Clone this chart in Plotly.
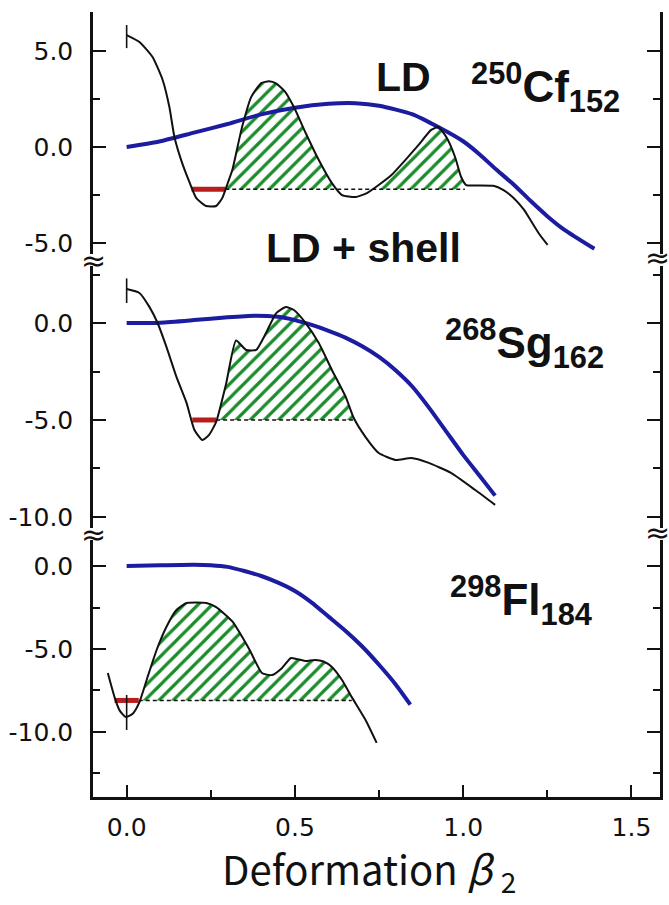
import plotly.graph_objects as go

W, H = 669, 905

# ---------------- data (energies in MeV vs deformation beta_2) ----------------
# 250Cf152
cf_shell_x = [0.0, 0.038, 0.077, 0.107, 0.127, 0.142, 0.162, 0.186, 0.207, 0.236, 0.266, 0.284,
              0.30, 0.314, 0.334, 0.343, 0.37, 0.40, 0.423, 0.445, 0.470, 0.497, 0.532, 0.571,
              0.61, 0.64, 0.68, 0.714, 0.749, 0.787, 0.828, 0.867, 0.905, 0.926, 0.95, 0.976,
              0.994, 1.009, 1.04, 1.09, 1.12, 1.15, 1.18, 1.2, 1.225, 1.251]
cf_shell_y = [5.83, 5.47, 4.69, 3.49, 2.08, 0.52, -0.68, -1.8, -2.66, -3.07, -3.07, -2.66,
              -1.9, -1.2, 0.36, 1.04, 2.6, 3.33, 3.42, 3.3, 2.9, 2.08, 0.73, -0.68,
              -1.88, -2.5, -2.6, -2.4, -1.98, -1.46, -0.68, 0.1, 0.89, 1.04, 0.52, -0.52,
              -1.56, -1.98, -2.0, -2.02, -2.25, -2.65, -3.25, -3.8, -4.5, -5.1]
cf_ld_x = [0.0, 0.1, 0.2, 0.3, 0.4, 0.5, 0.6, 0.68, 0.75, 0.85, 0.926, 1.0, 1.05, 1.1, 1.15,
           1.2, 1.25, 1.3, 1.39]
cf_ld_y = [0.0, 0.3, 0.75, 1.2, 1.7, 2.05, 2.25, 2.28, 2.15, 1.7, 1.04, 0.3, -0.4, -1.2, -1.95,
           -2.8, -3.6, -4.3, -5.3]

# 268Sg162
sg_shell_x = [0.0, 0.038, 0.068, 0.092, 0.118, 0.148, 0.178, 0.201, 0.225, 0.245, 0.266, 0.296,
              0.325, 0.355, 0.385, 0.414, 0.444, 0.473, 0.497, 0.532, 0.571, 0.61, 0.651,
              0.675, 0.71, 0.749, 0.799, 0.846, 0.896, 0.964, 1.035, 1.095]
sg_shell_y = [1.75, 1.55, 0.82, 0.0, -1.22, -2.78, -4.12, -5.5, -6.03, -5.77, -5.1, -3.1,
              -0.9, -1.39, -1.39, -0.52, 0.5, 0.82, 0.67, 0.0, -1.03, -2.42, -3.81,
              -4.9, -5.88, -6.7, -7.06, -6.96, -7.2, -7.73, -8.6, -9.38]
sg_ld_x = [0.0, 0.1, 0.2, 0.3, 0.38, 0.45, 0.5, 0.55, 0.6, 0.65, 0.7, 0.75, 0.8, 0.85, 0.9,
           0.95, 1.0, 1.05, 1.095]
sg_ld_y = [0.0, 0.02, 0.15, 0.3, 0.38, 0.32, 0.15, -0.1, -0.4, -0.75, -1.2, -1.75, -2.45,
           -3.3, -4.4, -5.6, -6.8, -7.9, -8.9]

# 298Fl184
fl_shell_x = [-0.056, -0.036, -0.021, -0.003, 0.018, 0.038, 0.062, 0.089, 0.118, 0.148, 0.178,
              0.207, 0.237, 0.266, 0.314, 0.364, 0.402, 0.432, 0.462, 0.488, 0.505, 0.53,
              0.56, 0.585, 0.61, 0.64, 0.669, 0.71, 0.743]
fl_shell_y = [-6.45, -7.9, -8.7, -9.1, -8.9, -8.2, -6.7, -5.06, -3.67, -2.65, -2.23,
              -2.2, -2.23, -2.47, -3.34, -5.0, -6.45, -6.57, -6.14, -5.54, -5.6, -5.72,
              -5.66, -5.75, -6.08, -6.87, -7.9, -9.28, -10.66]
fl_ld_x = [0.0, 0.1, 0.2, 0.25, 0.3, 0.35, 0.4, 0.45, 0.5, 0.55, 0.6, 0.65, 0.7, 0.75, 0.8,
           0.843]
fl_ld_y = [0.0, 0.05, 0.08, 0.05, -0.05, -0.3, -0.6, -1.0, -1.5, -2.2, -3.05, -3.9, -4.85,
           -5.95, -7.15, -8.35]

# ground-state level, extent of the ground-state bar, extent of the dashed level,
# and beta_2 windows of the hatched barriers
gs_level = [-2.2, -5.0, -8.1]
gs_bar = [[0.193, 0.293], [0.195, 0.266], [-0.036, 0.036]]
gs_dash = [[0.293, 1.005], [0.266, 0.68], [0.036, 0.669]]
barrier_windows = [[[0.28, 0.65], [0.70, 1.005]], [[0.25, 0.70]], [[0.0, 0.70]]]

# short vertical markers at beta_2 = 0
start_marks = [[6.35, 5.15], [2.3, 1.03], [-7.77, -9.88]]

nuclei = ["<sup>250</sup>Cf<sub>152</sub>", "<sup>268</sup>Sg<sub>162</sub>",
          "<sup>298</sup>Fl<sub>184</sub>"]

x_ticks = [0.0, 0.5, 1.0, 1.5]
x_minor = [0.25, 0.75, 1.25]
y_ticks = [[-5.0, 0.0, 5.0], [-10.0, -5.0, 0.0], [-10.0, -5.0, 0.0]]
y_minor = [[-2.5, 2.5], [-7.5, -2.5, 2.5], [-12.5, -7.5, -2.5]]

# ---------------- styling ----------------
BLACK = "#111111"
BLUE = "#1c1ca0"
RED = "#b81c1c"
GREEN = "#1a8c2c"

L, R, T, B = 93, 6, 12, 108
PW, PH = W - L - R, H - T - B


def fx(px):
    return (px - L) / PW


def fy(py):
    return (H - B - py) / PH


domains = [[fy(254), 1.0], [fy(528), fy(266)], [0.0, fy(540)]]
yranges = [[-5.57, 7.03], [-10.57, 2.94], [-13.92, 1.57]]


def hatch_polygons(xs, ys, level, lo, hi):
    """Closed pieces of the curve that lie above `level` inside [lo, hi]."""
    out_x, out_y = [], []
    cur = None
    for xa, ya, xb, yb in zip(xs, ys, xs[1:], ys[1:]):
        if xb <= lo or xa >= hi:
            continue
        if xa < lo:
            ya = ya + (yb - ya) * (lo - xa) / (xb - xa)
            xa = lo
        if xb > hi:
            yb = ya + (yb - ya) * (hi - xa) / (xb - xa)
            xb = hi
        a_up, b_up = ya >= level, yb >= level
        if cur is None and a_up:
            cur = [(xa, level), (xa, ya)]
        if a_up and b_up:
            cur.append((xb, yb))
        elif a_up and not b_up:
            xc = xa + (level - ya) * (xb - xa) / (yb - ya)
            cur.append((xc, level))
            out_x += [p[0] for p in cur] + [None]
            out_y += [p[1] for p in cur] + [None]
            cur = None
        elif b_up:
            xc = xa + (level - ya) * (xb - xa) / (yb - ya)
            cur = [(xc, level), (xb, yb)]
    if cur:
        cur.append((cur[-1][0], level))
        out_x += [p[0] for p in cur] + [None]
        out_y += [p[1] for p in cur] + [None]
    return out_x, out_y


panels = [
    (cf_shell_x, cf_shell_y, cf_ld_x, cf_ld_y),
    (sg_shell_x, sg_shell_y, sg_ld_x, sg_ld_y),
    (fl_shell_x, fl_shell_y, fl_ld_x, fl_ld_y),
]

fig = go.Figure()
for i, (sx, sy, lx, ly) in enumerate(panels):
    yref = "y" if i == 0 else f"y{i + 1}"
    lev = gs_level[i]
    # hatched barriers
    for lo, hi in barrier_windows[i]:
        hx, hy = hatch_polygons(sx, sy, lev, lo, hi)
        fig.add_trace(go.Scatter(
            x=hx, y=hy, xaxis="x", yaxis=yref, mode="none", fill="toself",
            fillcolor="rgba(0,0,0,0)",
            fillpattern=dict(shape="/", fgcolor=GREEN, fgopacity=1,
                             bgcolor="rgba(0,0,0,0)", size=10, solidity=0.32),
            hoverinfo="skip", showlegend=False))
    # dashed ground-state level
    fig.add_trace(go.Scatter(
        x=gs_dash[i], y=[lev, lev], xaxis="x", yaxis=yref, mode="lines",
        line=dict(color=BLACK, width=1.5, dash="4px,3px"), showlegend=False))
    # ground-state bar
    fig.add_trace(go.Scatter(
        x=gs_bar[i], y=[lev, lev], xaxis="x", yaxis=yref, mode="lines",
        line=dict(color=RED, width=5), showlegend=False))
    # LD curve
    fig.add_trace(go.Scatter(
        x=lx, y=ly, xaxis="x", yaxis=yref, mode="lines",
        line=dict(color=BLUE, width=4, shape="spline", smoothing=0.6), showlegend=False))
    # LD + shell curve
    fig.add_trace(go.Scatter(
        x=sx, y=sy, xaxis="x", yaxis=yref, mode="lines",
        line=dict(color=BLACK, width=2, shape="spline", smoothing=0.5), showlegend=False))
    # start marker at beta_2 = 0
    fig.add_trace(go.Scatter(
        x=[0.0, 0.0], y=start_marks[i], xaxis="x", yaxis=yref, mode="lines",
        line=dict(color=BLACK, width=1.6), showlegend=False))

tick_font = dict(family="DejaVu Sans", size=25, color=BLACK)


def yaxis_cfg(i):
    return dict(
        domain=domains[i], range=yranges[i], anchor="x",
        showline=True, linecolor=BLACK, linewidth=2.5, mirror="ticks",
        ticks="inside", ticklen=13, tickwidth=2, tickcolor=BLACK,
        tickvals=y_ticks[i], ticktext=[f"{v:.1f}" for v in y_ticks[i]],
        minor=dict(ticks="inside", ticklen=7, tickwidth=2, tickcolor=BLACK,
                   tickvals=y_minor[i]),
        ticklabelstandoff=12, tickfont=tick_font,
        showgrid=False, zeroline=False, fixedrange=True)


x_common = dict(
    range=[-0.1, 1.585], showline=True, linecolor=BLACK, linewidth=2.5,
    ticks="inside", ticklen=12, tickwidth=2, tickcolor=BLACK,
    tickvals=x_ticks, ticktext=[f"{v:.1f}" for v in x_ticks],
    minor=dict(ticks="inside", ticklen=7, tickwidth=2, tickcolor=BLACK, tickvals=x_minor),
    showgrid=False, zeroline=False, fixedrange=True)

fig.update_layout(
    width=W, height=H, margin=dict(l=L, r=R, t=T, b=B),
    paper_bgcolor="white", plot_bgcolor="white", showlegend=False,
    xaxis=dict(**x_common, anchor="y3", tickfont=tick_font, ticklabelstandoff=6),
    xaxis2=dict(**x_common, anchor="y", side="top", overlaying="x", matches="x",
                showticklabels=False),
    yaxis=yaxis_cfg(0), yaxis2=yaxis_cfg(1), yaxis3=yaxis_cfg(2),
)

label_font = dict(family="Liberation Sans", size=41, color=BLACK)
nuc_font = dict(family="Liberation Sans", size=44, color=BLACK)
ann = [
    dict(text="<b>LD</b>", x=fx(405), y=fy(77), font=label_font),
    dict(text="<b>LD + shell</b>", x=fx(365), y=fy(248), font=label_font),
    dict(text=f"<b>{nuclei[0]}</b>", x=fx(548), y=fy(88), font=nuc_font),
    dict(text=f"<b>{nuclei[1]}</b>", x=fx(527), y=fy(343), font=nuc_font),
    dict(text=f"<b>{nuclei[2]}</b>", x=fx(523), y=fy(600), font=nuc_font),
    dict(text="Deformation <i>β</i> <sub>2</sub>", x=fx(370), y=fy(870),
         font=dict(family="Noto Sans CJK JP", size=40, color=BLACK)),
]
# axis-break marks on both spines
for py_l, py_r in [(260, 257), (534, 532)]:
    ann.append(dict(text="≈", x=fx(L), y=fy(py_l),
                    font=dict(family="DejaVu Sans", size=30, color=BLACK)))
    ann.append(dict(text="≈", x=fx(W - R - 3), y=fy(py_r),
                    font=dict(family="DejaVu Sans", size=30, color=BLACK)))

for a in ann:
    a.update(xref="paper", yref="paper", showarrow=False, xanchor="center", yanchor="middle")
    fig.add_annotation(**a)

fig.write_html("out.html")
